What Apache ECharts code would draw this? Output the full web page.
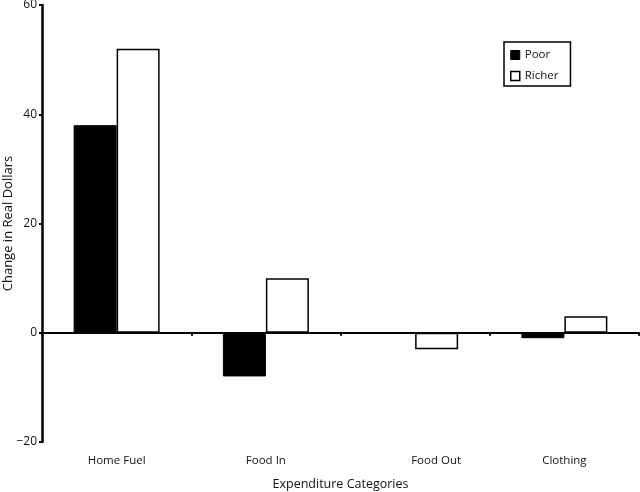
<!DOCTYPE html>
<html>
<head>
<meta charset="utf-8">
<script src="https://cdn.jsdelivr.net/npm/echarts@6/dist/echarts.min.js"></script>
<style>html,body{margin:0;padding:0;background:#fff;}#c{width:640px;height:492px;}</style>
</head>
<body>
<div id="c"></div>
<script>
var categories = ['Home Fuel', 'Food In', 'Food Out', 'Clothing'];
var poor = [38, -8, 0, -1];
var richer = [52, 10, -3, 3];
var yTicks = { min: -20, max: 60, interval: 20 };

var FONT = "'Open Sans', 'Noto Sans', sans-serif";
var chart = echarts.init(document.getElementById('c'), null, { renderer: 'canvas' });
chart.setOption({
  animation: false,
  backgroundColor: '#fff',
  textStyle: { fontFamily: FONT },
  grid: { left: 42, right: 1, top: 5, bottom: 50, containLabel: false, outerBoundsMode: 'none' },
  legend: {
    orient: 'vertical',
    left: 504, top: 42,
    borderColor: '#000', borderWidth: 1.5,
    padding: [7, 12, 4, 6],
    itemWidth: 9, itemHeight: 9, itemGap: 9,
    icon: 'rect',
    textStyle: { fontFamily: FONT, fontSize: 11.5, color: '#111' },
    data: [
      { name: 'Poor', itemStyle: { color: '#000', borderColor: '#000', borderWidth: 1 } },
      { name: 'Richer', itemStyle: { color: '#fff', borderColor: '#000', borderWidth: 1.5 } }
    ]
  },
  xAxis: [
    {
      type: 'category', data: categories, position: 'bottom',
      axisLine: { show: false, onZero: false }, axisTick: { show: false },
      axisLabel: {
        margin: 13, fontSize: 11.5, color: '#111', fontFamily: FONT,
        formatter: function (v) { return v === 'Food Out' ? '{off|' + v + '}' : v; },
        rich: { off: { padding: [0, 0, 0, 42], fontSize: 11.5, color: '#111', fontFamily: FONT } }
      },
      name: 'Expenditure Categories', nameLocation: 'middle', nameGap: 36,
      nameTextStyle: { fontSize: 12.5, color: '#111', fontFamily: FONT }
    },
    {
      type: 'category', data: categories, position: 'bottom',
      axisLine: { show: true, onZero: true, lineStyle: { color: '#000', width: 2 } },
      axisTick: { show: true, length: 3, lineStyle: { color: '#000', width: 2 } },
      axisLabel: { show: false }
    }
  ],
  yAxis: {
    type: 'value', min: yTicks.min, max: yTicks.max, interval: yTicks.interval,
    splitLine: { show: false },
    axisLine: { show: true, lineStyle: { color: '#000', width: 2.5 } },
    axisTick: { show: true, length: 3, lineStyle: { color: '#000', width: 2 } },
    axisLabel: {
      margin: 5, fontSize: 12, color: '#111', fontFamily: FONT,
      formatter: function (v) { return String(v).replace('-', '\u2212'); }
    },
    name: 'Change in Real Dollars', nameLocation: 'middle', nameGap: 27,
    nameMoveOverlap: false,
    nameTextStyle: { fontSize: 13, color: '#111', fontFamily: FONT }
  },
  series: [
    {
      name: 'Poor', type: 'bar', xAxisIndex: 0, data: poor,
      barWidth: 43, barGap: '0%',
      itemStyle: { color: '#000', borderColor: '#000', borderWidth: 1 }
    },
    {
      name: 'Richer', type: 'bar', xAxisIndex: 0, data: richer,
      barWidth: 43, barGap: '0%',
      itemStyle: { color: '#fff', borderColor: '#000', borderWidth: 1.5 }
    }
  ]
});
</script>
</body>
</html>
